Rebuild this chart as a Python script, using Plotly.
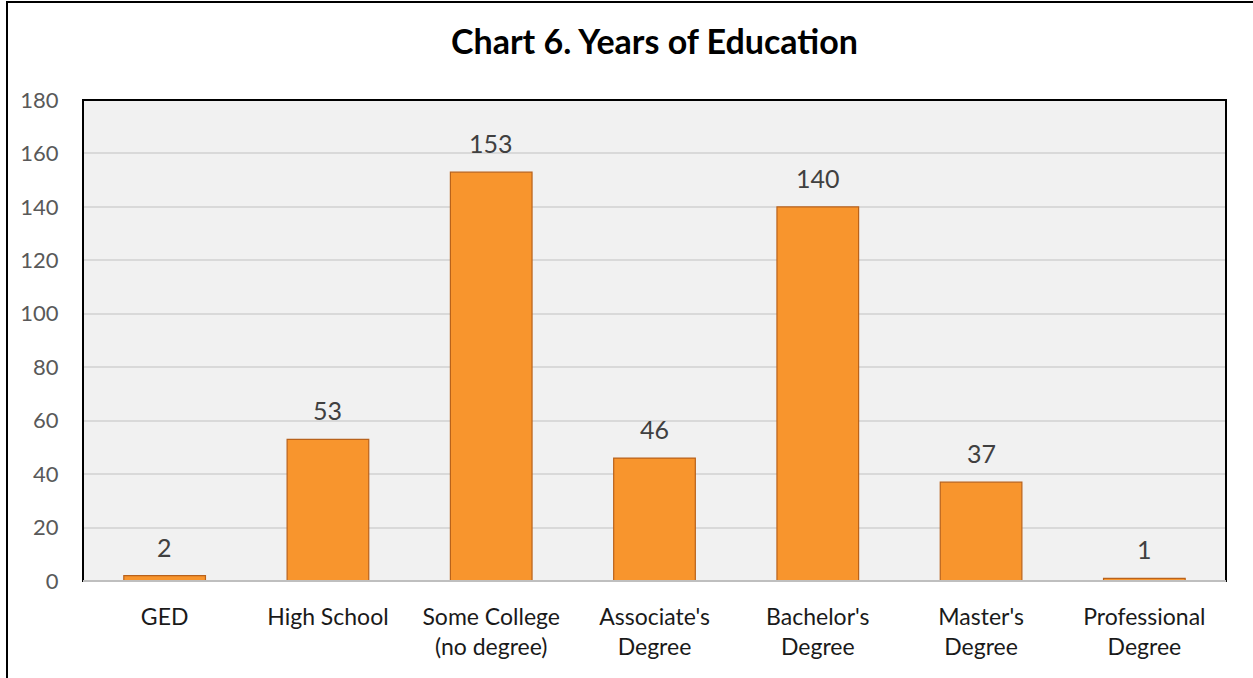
import plotly.graph_objects as go

categories = ["GED", "High School", "Some College<br>(no degree)", "Associate's<br>Degree",
              "Bachelor's<br>Degree", "Master's<br>Degree", "Professional<br>Degree"]
values = [2, 53, 153, 46, 140, 37, 1]
y_ticks = [0, 20, 40, 60, 80, 100, 120, 140, 160, 180]

FONT = "Lato"
W, H = 1253, 678
ML, MR, MT, MB = 83, 27, 100, 97
PW, PH = W - ML - MR, H - MT - MB

fig = go.Figure()
fig.add_trace(go.Bar(
    x=categories, y=values, width=0.5,
    marker=dict(color="#F8952D", line=dict(color="#B9621B", width=1.2)),
    hoverinfo="x+y",
))

for c, v in zip(categories, values):
    fig.add_annotation(x=c, y=v, text=str(v), showarrow=False, yanchor="bottom",
                       yshift=12, font=dict(family=FONT, size=25, color="#404040"))

# outer chart border (left & top)
px = lambda x: (x - ML) / PW
py = lambda y: 1 - (y - MT) / PH
fig.add_shape(type="line", xref="paper", yref="paper", x0=px(7), x1=px(7), y0=py(2), y1=py(700),
              line=dict(color="black", width=2))
fig.add_shape(type="line", xref="paper", yref="paper", x0=px(6), x1=px(1300), y0=py(2), y1=py(2),
              line=dict(color="black", width=2))
# plot area border
fig.add_shape(type="rect", xref="paper", yref="paper", x0=0, x1=1, y0=0, y1=1,
              line=dict(color="black", width=2), layer="above")
fig.add_shape(type="line", xref="paper", yref="paper", x0=0, x1=1, y0=0, y1=0,
              line=dict(color="#BFBFBF", width=2), layer="above")

fig.update_layout(
    width=W, height=H,
    margin=dict(l=ML, r=MR, t=MT, b=MB, pad=0),
    paper_bgcolor="white", plot_bgcolor="#F1F1F1",
    title=dict(text="<b>Chart 6. Years of Education</b>", x=0.5, xref="paper", y=1 - 42 / H,
               yanchor="middle", font=dict(family=FONT, size=34, color="black")),
    showlegend=False,
    font=dict(family=FONT),
)
fig.update_xaxes(showgrid=False, ticks="outside", ticklen=15, tickcolor="rgba(0,0,0,0)",
                 tickfont=dict(family=FONT, size=23, color="#1A1A1A"), showline=False)
fig.update_yaxes(range=[0, 180], tickvals=y_ticks, showgrid=True, gridcolor="#D9D9D9", gridwidth=1.5,
                 zeroline=False, ticks="outside", ticklen=19, tickcolor="rgba(0,0,0,0)",
                 tickfont=dict(family=FONT, size=22, color="#595959"))

fig.write_html("out.html")
